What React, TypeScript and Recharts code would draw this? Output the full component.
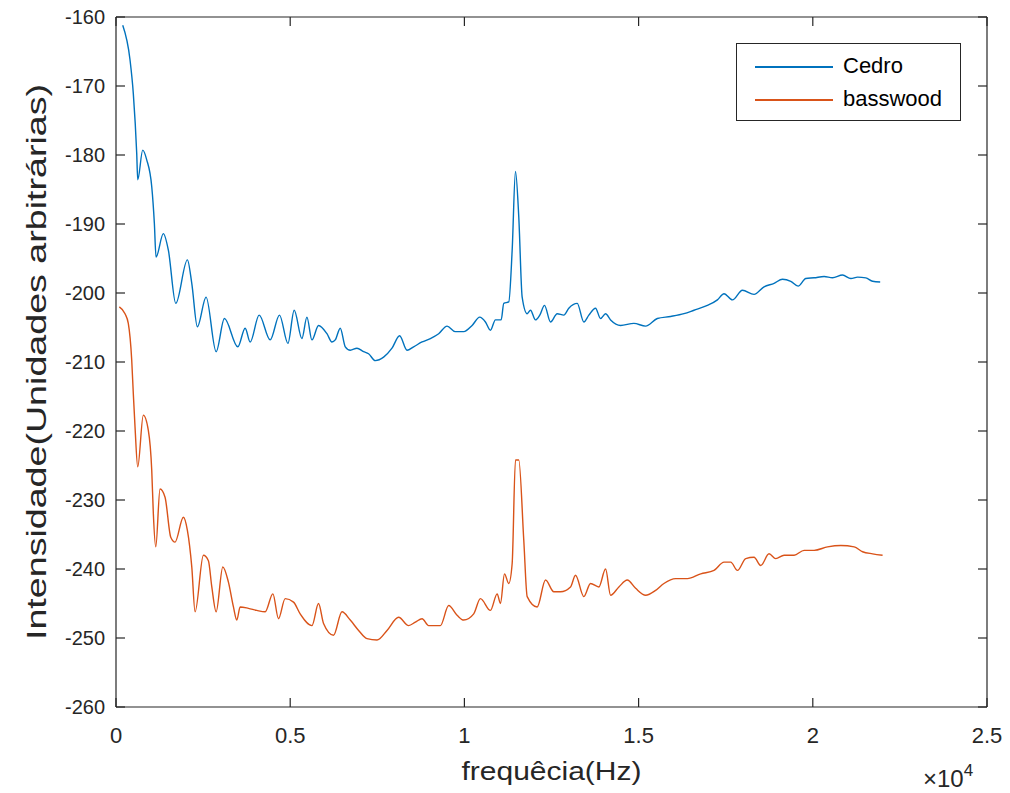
import React from "react";
import { LineChart, Line, XAxis, YAxis, Label } from "recharts";

const freqCedro = [193,402,497,595,624,767,882,1026,1101,1149,1359,1503,1716,2049,2175,2336,2586,2874,3112,3497,3707,3851,4109,4425,4693,4934,5115,5336,5480,5624,5813,6055,6198,6293,6437,6581,6724,6917,7106,7250,7443,7681,7922,8141,8354,8543,8785,9023,9262,9503,9742,9980,10221,10440,10604,10747,10891,11055,11130,11273,11371,11466,11561,11658,11802,11897,12040,12164,12299,12471,12664,12853,12997,13238,13428,13572,13764,13908,14052,14196,14483,14865,15201,15537,15920,16302,16589,16974,17262,17452,17693,17980,18313,18601,18888,19129,19368,19578,19799,20037,20325,20566,20854,21092,21285,21523,21716,21934];
const valCedro = [-161.2,-166.2,-171.1,-179.8,-183.6,-179.3,-180.7,-184.6,-189.9,-194.8,-191.4,-193.8,-201.5,-195.2,-198.6,-204.9,-200.6,-208.5,-203.7,-207.8,-205.1,-207.1,-203.2,-206.8,-203.2,-207.3,-202.5,-206.6,-203.5,-206.8,-204.7,-205.9,-207.1,-206.8,-205.1,-207.8,-208.3,-208.0,-208.5,-208.8,-209.8,-209.3,-208.0,-206.2,-208.3,-207.8,-207.1,-206.6,-205.9,-204.8,-205.6,-205.6,-204.7,-203.5,-204.2,-205.4,-203.9,-203.9,-201.5,-201.3,-193.8,-182.4,-189.0,-200.6,-203.0,-202.5,-203.9,-203.2,-201.8,-204.2,-203.0,-203.2,-202.2,-201.5,-204.2,-203.2,-202.2,-203.7,-203.0,-203.9,-204.7,-204.4,-204.8,-203.7,-203.4,-203.0,-202.5,-201.8,-201.0,-200.1,-201.0,-199.6,-200.2,-199.1,-198.6,-198.0,-198.3,-199.0,-197.9,-197.8,-197.6,-197.8,-197.4,-197.9,-197.7,-197.8,-198.3,-198.4];

const freqBass = [95,259,353,451,497,546,624,784,928,1026,1072,1141,1264,1408,1572,1695,1934,2049,2175,2270,2509,2652,2750,2874,3066,3227,3371,3468,3563,3802,4043,4282,4503,4664,4856,5095,5287,5624,5813,5957,6244,6486,6724,6963,7204,7491,7779,8112,8400,8592,8785,8974,9310,9549,9790,9980,10267,10460,10747,10940,11035,11150,11273,11371,11466,11561,11704,11802,12089,12328,12566,12759,13046,13190,13428,13620,13859,14052,14196,14434,14675,14914,15201,15489,15727,16063,16400,16783,17165,17452,17644,17837,18075,18313,18506,18744,18937,19175,19463,19750,20037,20423,20805,21188,21429,21716,22003];
const valBass = [-202.0,-203.0,-204.4,-209.7,-214.6,-219.4,-225.2,-217.7,-219.9,-225.7,-232.0,-236.8,-228.4,-229.6,-235.4,-236.1,-232.5,-234.4,-239.7,-246.2,-238.0,-238.8,-242.6,-246.2,-239.7,-241.9,-245.5,-247.4,-245.5,-245.7,-246.0,-246.2,-243.6,-247.2,-244.3,-244.8,-246.5,-248.2,-245.0,-247.9,-249.6,-246.2,-247.4,-248.9,-250.1,-250.3,-248.9,-247.0,-248.2,-247.7,-247.2,-248.2,-248.2,-245.3,-246.7,-247.4,-246.5,-244.3,-246.0,-243.6,-245.0,-240.7,-242.1,-239.2,-224.2,-224.2,-235.8,-244.0,-245.5,-241.6,-243.3,-243.3,-242.6,-240.9,-244.0,-242.1,-242.6,-240.0,-243.8,-242.6,-241.6,-242.8,-243.8,-243.1,-242.1,-241.4,-241.4,-240.7,-240.2,-239.0,-239.0,-240.2,-238.5,-238.3,-239.5,-237.8,-238.5,-238.0,-238.0,-237.3,-237.3,-236.8,-236.6,-236.8,-237.5,-237.8,-238.0];

const xTicks = [0, 5000, 10000, 15000, 20000, 25000];
const yTicks = [-260, -250, -240, -230, -220, -210, -200, -190, -180, -170, -160];
const seriesNames = ["Cedro", "basswood"];
const xLabel = "frequêcia(Hz)";
const yLabel = "Intensidade(Unidades arbitrárias)";

const cedroData = freqCedro.map((f, i) => ({ f, v: valCedro[i] }));
const bassData = freqBass.map((f, i) => ({ f, v: valBass[i] }));

const AX = "#262626";
const FONT = "'Liberation Sans', Arial, sans-serif";
const C1 = "#0072BD";
const C2 = "#D95319";
const TL = 9;

const W = 1002;
const H = 785;
const M = { top: 8, right: 22, bottom: 0, left: 8 };
const YW = 100;
const XH = 86;

const fmtX = (v: number) => String(v / 10000);

const BottomTick = (p: any) => (
  <g>
    <line x1={p.x} x2={p.x} y1={p.y} y2={p.y - TL} stroke={AX} strokeWidth={1.2} />
    <text x={p.x} y={p.y + 36} textAnchor="middle" fontSize={22} fill={AX} fontFamily={FONT}>
      {fmtX(p.payload.value)}
    </text>
  </g>
);
const TopTick = (p: any) => (
  <line x1={p.x} x2={p.x} y1={p.y} y2={p.y + TL} stroke={AX} strokeWidth={1.2} />
);
const LeftTick = (p: any) => (
  <g>
    <line x1={p.x} x2={p.x + TL} y1={p.y} y2={p.y} stroke={AX} strokeWidth={1.2} />
    <text x={p.x - 11} y={p.y + 7} textAnchor="end" fontSize={20} fill={AX} fontFamily={FONT}>
      {p.payload.value}
    </text>
  </g>
);
const RightTick = (p: any) => (
  <line x1={p.x} x2={p.x - TL} y1={p.y} y2={p.y} stroke={AX} strokeWidth={1.2} />
);

const plotLeft = M.left + YW;
const plotRight = W - M.right - 1;
const plotTop = M.top + 1;
const plotBottom = H - M.bottom - XH;

const XLabelContent = () => (
  <g>
    <text
      x={(plotLeft + plotRight) / 2}
      y={plotBottom + 73}
      textAnchor="middle"
      fontSize={26}
      fill={AX}
      fontFamily={FONT}
      textLength={180}
      lengthAdjust="spacingAndGlyphs"
    >
      {xLabel}
    </text>
    <text x={plotRight - 64} y={plotBottom + 80} fontSize={24} fill={AX} fontFamily={FONT}>
      ×10
      <tspan dy={-11} fontSize={17}>4</tspan>
    </text>
  </g>
);

const YLabelContent = () => {
  const cx = 46 - 8;
  const cy = (plotTop + plotBottom) / 2;
  return (
    <text
      x={cx}
      y={cy}
      transform={`rotate(-90, ${cx}, ${cy})`}
      textAnchor="middle"
      fontSize={27}
      fill={AX}
      fontFamily={FONT}
      textLength={556}
      lengthAdjust="spacingAndGlyphs"
    >
      {yLabel}
    </text>
  );
};

const Legend = () => (
  <div
    style={{
      position: "absolute",
      left: 728,
      top: 35,
      width: 223,
      height: 76,
      border: `1.3px solid ${AX}`,
      background: "#fff",
      fontFamily: FONT,
      fontSize: 22,
      color: "#000",
    }}
  >
    {seriesNames.map((n, i) => (
      <div key={n} style={{ position: "absolute", left: 0, top: i === 0 ? 8 : 41, height: 28, width: 223 }}>
        <div
          style={{
            position: "absolute",
            left: 18,
            top: 14,
            width: 78,
            height: 1.5,
            background: i === 0 ? C1 : C2,
          }}
        />
        <span style={{ position: "absolute", left: 106, top: 1, lineHeight: "26px" }}>{n}</span>
      </div>
    ))}
  </div>
);

export default function App() {
  return (
    <div style={{ position: "relative", width: W, height: H, background: "#fff" }}>
      <LineChart width={W} height={H} margin={M}>
        <XAxis
          dataKey="f"
          type="number"
          domain={[0, 25000]}
          ticks={xTicks}
          interval={0}
          tickSize={0}
          tickMargin={0}
          tickLine={false}
          tick={BottomTick}
          height={XH}
          axisLine={{ stroke: AX, strokeWidth: 1.2 }}
          label={<Label content={XLabelContent} />}
        />
        <XAxis
          xAxisId="top"
          orientation="top"
          dataKey="f"
          type="number"
          domain={[0, 25000]}
          ticks={xTicks}
          interval={0}
          tickSize={0}
          tickMargin={0}
          tickLine={false}
          tick={TopTick}
          height={1}
          axisLine={{ stroke: AX, strokeWidth: 1.2 }}
        />
        <YAxis
          type="number"
          domain={[-260, -160]}
          ticks={yTicks}
          interval={0}
          tickSize={0}
          tickMargin={0}
          tickLine={false}
          tick={LeftTick}
          width={YW}
          axisLine={{ stroke: AX, strokeWidth: 1.2 }}
          label={<Label content={YLabelContent} />}
        />
        <YAxis
          yAxisId="right"
          orientation="right"
          type="number"
          domain={[-260, -160]}
          ticks={yTicks}
          interval={0}
          tickSize={0}
          tickMargin={0}
          tickLine={false}
          tick={RightTick}
          width={1}
          axisLine={{ stroke: AX, strokeWidth: 1.2 }}
        />
        <Line
          data={cedroData}
          dataKey="v"
          xAxisId="top"
          yAxisId="right"
          name={seriesNames[0]}
          type="monotone"
          stroke={C1}
          strokeWidth={1.4}
          dot={false}
          isAnimationActive={false}
        />
        <Line
          data={bassData}
          dataKey="v"
          name={seriesNames[1]}
          type="monotone"
          stroke={C2}
          strokeWidth={1.4}
          dot={false}
          isAnimationActive={false}
        />
      </LineChart>
      <Legend />
    </div>
  );
}
